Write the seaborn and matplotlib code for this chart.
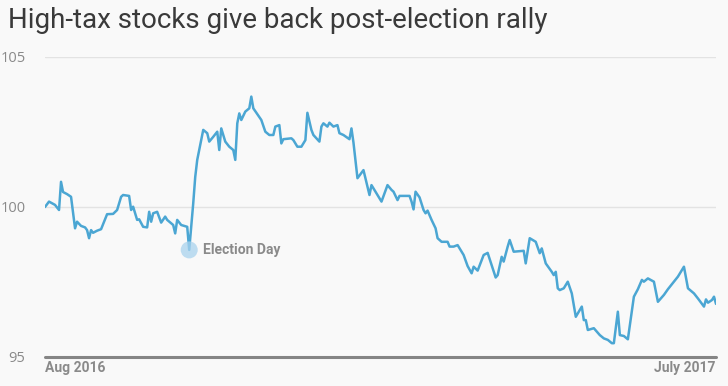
import pandas as pd
import numpy as np
import matplotlib.pyplot as plt
import seaborn as sns

# Index of high-tax stocks (days since the first point)
start_date = "2016-08-28"
days = [0, 2, 5, 7, 8, 9, 11, 13, 15, 16, 18, 20, 21, 22, 23, 24, 26, 28, 31, 34,
        36, 38, 39, 42, 43, 44, 46, 47, 49, 51, 52, 53, 54, 56, 58, 60, 61, 64, 65, 66,
        68, 71, 72, 74, 75, 76, 79, 81, 82, 84, 86, 87, 88, 90, 92, 94, 95, 96, 97, 98,
        100, 102, 103, 104, 108, 110, 112, 114, 115, 117, 118, 119, 123, 124, 126, 128, 130, 131, 133, 134,
        137, 138, 139, 141, 142, 144, 146, 147, 149, 152, 153, 154, 156, 159, 162, 163, 166, 168, 171, 173,
        174, 176, 177, 182, 183, 184, 185, 187, 189, 190, 191, 193, 195, 196, 198, 201, 202, 204, 206, 209,
        211, 213, 214, 216, 219, 221, 223, 225, 226, 228, 229, 231, 232, 234, 239, 240, 242, 245, 247, 248,
        250, 253, 254, 255, 256, 257, 259, 261, 263, 265, 268, 269, 270, 271, 274, 277, 279, 281, 283, 284,
        286, 287, 289, 291, 294, 296, 298, 299, 301, 304, 305, 306, 309, 311, 314, 316, 319, 321, 324, 326,
        329, 330, 331, 333, 334, 335]
values = [100.00, 100.18, 100.07, 99.90, 100.84, 100.50, 100.43, 100.34, 99.29, 99.51, 99.37, 99.32, 99.23, 98.96, 99.23, 99.14, 99.21, 99.26, 99.76, 99.77,
          99.90, 100.34, 100.40, 100.37, 99.90, 100.01, 99.57, 99.59, 99.34, 99.32, 99.84, 99.51, 99.79, 99.84, 99.48, 99.68, 99.57, 99.40, 99.12, 99.57,
          99.40, 99.34, 98.57, 100.12, 101.00, 101.57, 102.57, 102.46, 102.18, 102.34, 102.51, 101.90, 102.62, 102.18, 102.01, 101.90, 101.57, 102.79, 103.12, 102.90,
          103.18, 103.29, 103.68, 103.29, 102.90, 102.51, 102.40, 102.40, 102.68, 102.73, 102.12, 102.26, 102.29, 102.23, 102.01, 102.01, 102.23, 103.14, 102.57, 102.40,
          102.18, 102.68, 102.79, 102.68, 102.81, 102.68, 102.73, 102.46, 102.40, 102.26, 102.62, 102.15, 100.96, 101.23, 100.40, 100.73, 100.40, 100.18, 100.73, 100.57,
          100.51, 100.23, 100.37, 100.37, 100.18, 99.92, 100.51, 100.32, 99.90, 99.79, 99.88, 99.57, 99.29, 98.96, 98.84, 98.84, 98.68, 98.68, 98.73, 98.40,
          98.03, 97.79, 98.01, 97.88, 98.40, 98.47, 98.06, 97.65, 97.73, 98.34, 98.18, 98.68, 98.90, 98.51, 98.54, 98.12, 98.96, 98.84, 98.46, 98.62,
          98.12, 97.84, 97.73, 97.84, 97.29, 97.23, 97.29, 97.51, 97.12, 96.34, 96.68, 96.23, 96.23, 95.90, 95.96, 95.73, 95.62, 95.57, 95.46, 95.46,
          96.51, 95.73, 95.70, 95.59, 97.01, 97.26, 97.57, 97.51, 97.62, 97.51, 97.18, 96.84, 97.07, 97.26, 97.51, 97.68, 98.01, 97.29, 97.12, 96.95,
          96.68, 96.92, 96.81, 96.90, 97.01, 96.77]
election_day = "2016-11-08"
y_ticks = [95, 100, 105]
x_labels = ["Aug 2016", "July 2017"]

LINE = "#4ba6d3"
GREY = "#8a8a8a"
BG = "#f9f9f9"
NARROW = ["Liberation Sans Narrow", "Roboto", "DejaVu Sans"]

sns.set_theme(style="white")
plt.rcParams["font.family"] = ["Roboto", "DejaVu Sans"]

df = pd.DataFrame({"date": pd.Timestamp(start_date) + pd.to_timedelta(days, unit="D"),
                   "index": values})

fig = plt.figure(figsize=(7.28, 3.86), dpi=100, facecolor=BG)
ax = fig.add_axes([45 / 728, 1 - 357 / 386, 671 / 728, 300 / 386])
ax.set_facecolor(BG)

sns.lineplot(data=df, x="date", y="index", color=LINE, linewidth=1.8, ax=ax,
             estimator=None, sort=False)

# Election day marker
ed = df[df["date"] == pd.Timestamp(election_day)]
ax.scatter(ed["date"], ed["index"], s=150, color="#a9d3ee", alpha=0.75, zorder=3,
           edgecolors="none")
ax.annotate("Election Day", (ed["date"].iloc[0], ed["index"].iloc[0]),
            xytext=(10, 0), textcoords="offset points", va="center", ha="left",
            fontsize=10, color=GREY, fontweight="bold", family=NARROW)

ax.set_ylim(95, 105)
ax.set_xlim(df["date"].iloc[0], df["date"].iloc[-1])
ax.set_yticks(y_ticks)
ax.set_yticklabels([str(t) for t in y_ticks], color=GREY, fontsize=10.5,
                   family=["Open Sans", "DejaVu Sans"])
ax.tick_params(axis="y", length=0, pad=14)
ax.set_xticks([df["date"].iloc[0], df["date"].iloc[-1]])
ax.set_xticklabels(x_labels, color=GREY, fontsize=10, fontweight="bold", family=NARROW)
xl = ax.get_xticklabels()
xl[0].set_ha("left")
xl[1].set_ha("right")
ax.tick_params(axis="x", length=0, pad=3)

for t in [100, 105]:
    ax.axhline(t, color="#e3e3e3", linewidth=1, zorder=0)
ax.axhline(95, color="#858585", linewidth=2.2, zorder=1, clip_on=False)

for s in ax.spines.values():
    s.set_visible(False)
ax.set_xlabel("")
ax.set_ylabel("")

fig.text(8 / 728, 1 - 20 / 386, "High-tax stocks give back post-election rally",
         fontsize=20, color="#3a3a3a", va="center", ha="left")

fig.savefig("out.png", dpi=100, facecolor=BG)
